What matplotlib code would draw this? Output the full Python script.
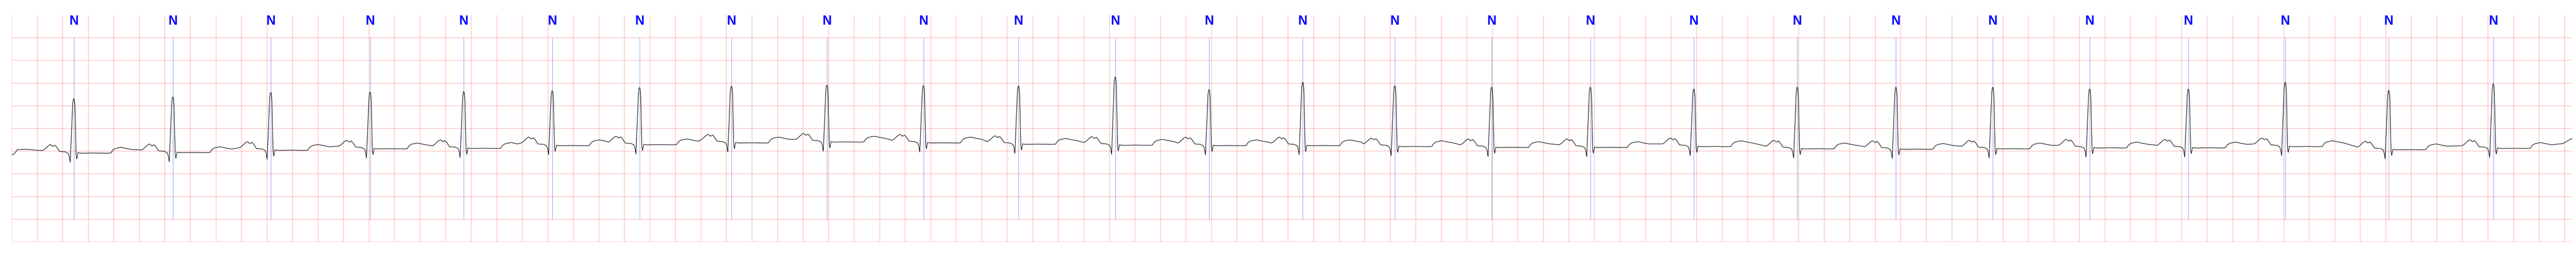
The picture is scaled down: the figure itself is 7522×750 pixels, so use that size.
import numpy as np
import matplotlib
matplotlib.use("Agg")
import matplotlib.pyplot as plt

# ---- data ----
# R-peak times (s) of the annotated beats, all labelled "N"
r_times = [0.487, 1.263, 2.030, 2.808, 3.542, 4.235, 4.919, 5.639, 6.387, 7.143,
           7.888, 8.646, 9.381, 10.115, 10.836, 11.595, 12.368, 13.179, 13.989,
           14.762, 15.521, 16.280, 17.053, 17.812, 18.623, 19.442]
beat_labels = ["N"] * len(r_times)
# R-peak amplitude (mV)
r_amps = [1.158, 1.196, 1.297, 1.302, 1.314, 1.334, 1.402, 1.432, 1.458, 1.445,
          1.44, 1.637, 1.36, 1.52, 1.44, 1.41, 1.41, 1.37, 1.41, 1.41,
          1.41, 1.37, 1.37, 1.52, 1.34, 1.487]
# isoelectric (ST) level of each beat (mV)
base_lvl = [-0.045, -0.033, 0.018, 0.05, 0.06, 0.12, 0.14, 0.18, 0.2, 0.18,
            0.15, 0.13, 0.12, 0.12, 0.1, 0.08, 0.08, 0.1, 0.05, 0.04,
            0.05, 0.07, 0.07, 0.1, 0.03, 0.06]

# beat shape read from one complex: P wave before R (offset s, mV above baseline)
pre_dt = [-0.245, -0.228, -0.196, -0.183, -0.164, -0.148, -0.132, -0.113, -0.068, -0.045, -0.036]
pre_v = [0.06, 0.09, 0.175, 0.19, 0.15, 0.175, 0.125, 0.04, 0.03, 0.0, -0.07]
# QRS: offset, fraction of R height, extra offset (Q and S dips)
qrs_dt = [-0.029, -0.020, -0.009, -0.004, 0.0, 0.004, 0.009, 0.013, 0.018, 0.023]
qrs_frac = [0.0, 0.40, 0.92, 0.99, 1.0, 0.98, 0.85, 0.45, 0.05, 0.0]
qrs_off = [-0.20, -0.12, -0.016, 0.0, 0.0, 0.0, -0.02, -0.07, -0.11, -0.125]
# ST segment and T wave after R
post_dt = [0.032, 0.06, 0.16, 0.26, 0.29, 0.305, 0.325, 0.37, 0.42, 0.46]
post_v = [0.01, 0.0, 0.005, 0.0, 0.005, 0.07, 0.105, 0.13, 0.10, 0.08]

# start and end of the strip
lead_t = [0.0, 0.02, 0.045, 0.12, 0.2]
lead_v = [-0.078, -0.06, 0.035, 0.04, 0.02]
tail_t = [19.99, 20.03, 20.06]
tail_v = [0.17, 0.24, 0.28]

# ---- assemble trace ----
ts = list(lead_t)
vs = list(lead_v)
n = len(r_times)
for i in range(n):
    r, R, b = r_times[i], r_amps[i], base_lvl[i]
    for dt, v in zip(pre_dt, pre_v):
        ts.append(r + dt); vs.append(b + v)
    for dt, f, o in zip(qrs_dt, qrs_frac, qrs_off):
        ts.append(r + dt); vs.append(b + f * (R - b) + o)
    limit = r_times[i + 1] + pre_dt[0] if i + 1 < n else tail_t[0]
    for dt, v in zip(post_dt, post_v):
        if r + dt < limit:
            ts.append(r + dt); vs.append(b + v)
ts += tail_t
vs += tail_v

# ---- plot ----
fig = plt.figure(figsize=(75.22, 7.5), dpi=100)
ax = fig.add_axes([34.2 / 7522, 44 / 750, (7511 - 34.2) / 7522, 662 / 750])
ax.set_xlim(0, 20.06)
ax.set_ylim(-2.0, 3.0)
ax.set_xticks(np.arange(0, 20.06, 0.2))
ax.set_yticks(np.arange(-2.0, 3.0, 0.5))
ax.grid(True, color="red", alpha=0.25, linewidth=1.3)
ax.set_axisbelow(True)
ax.tick_params(length=0, labelbottom=False, labelleft=False)
for s in ax.spines.values():
    s.set_visible(False)

ax.vlines(r_times, -1.5, 2.5, color="blue", alpha=0.5, linewidth=0.8, zorder=2)
ax.plot(ts, vs, color="black", linewidth=1.1, zorder=3)
for t, lab in zip(r_times, beat_labels):
    ax.text(t, 3.0, lab, ha="center", va="top", color="blue", fontsize=27,
            fontweight="bold", family=["Liberation Sans", "DejaVu Sans"])

fig.savefig("out.png", dpi=100)
